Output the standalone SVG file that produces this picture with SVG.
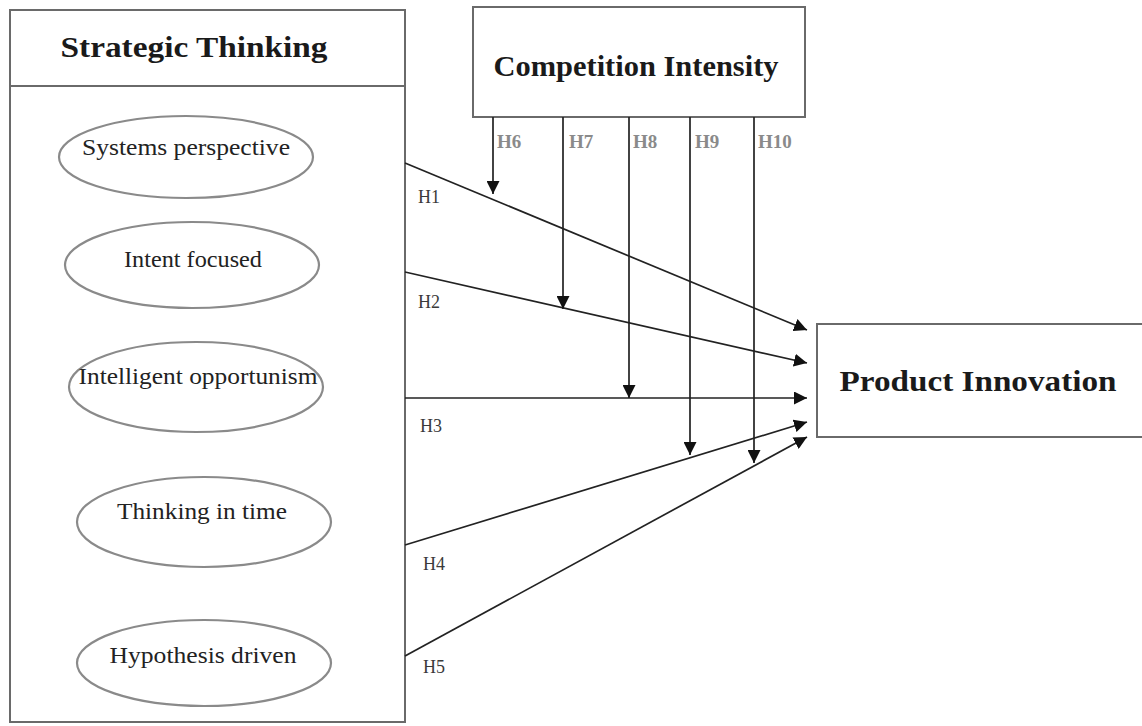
<svg xmlns="http://www.w3.org/2000/svg" width="1142" height="726" viewBox="0 0 1142 726">
<defs>
<style>
.box{fill:#fff;stroke:#6a6a6a;stroke-width:2}
.ell{fill:#fff;stroke:#8a8a8a;stroke-width:2.2}
.title{font-family:"Liberation Serif",serif;font-weight:bold;font-size:30px;fill:#1a1a1a;text-anchor:middle}
.etxt{font-family:"Liberation Serif",serif;font-size:24px;fill:#222;text-anchor:middle}
.lbl{font-family:"Liberation Serif",serif;font-size:18px;fill:#3a3a3a}
.mlbl{font-family:"Liberation Serif",serif;font-size:19px;fill:#8a8a8a;font-weight:bold}
.con{stroke:#222;stroke-width:1.7;fill:none;marker-end:url(#ah)}
</style>
<marker id="ah" viewBox="0 0 10 10" refX="10" refY="5" markerWidth="13" markerHeight="13" markerUnits="userSpaceOnUse" orient="auto">
<path d="M0,0 L10,5 L0,10 z" fill="#111"/>
</marker>
</defs>
<rect width="1142" height="726" fill="#fff"/>

<g id="strategic-thinking">
<rect class="box" x="10" y="10" width="395" height="712"/>
<line x1="10" y1="86" x2="405" y2="86" stroke="#6a6a6a" stroke-width="2"/>
<text class="title" x="194" y="57" textLength="267" lengthAdjust="spacingAndGlyphs">Strategic Thinking</text>
</g>

<g id="systems-perspective">
<ellipse class="ell" cx="186" cy="157" rx="127" ry="41"/>
<text class="etxt" x="186" y="155" textLength="208" lengthAdjust="spacingAndGlyphs">Systems perspective</text>
</g>
<g id="intent-focused">
<ellipse class="ell" cx="192" cy="265" rx="127" ry="43"/>
<text class="etxt" x="193" y="267" textLength="138" lengthAdjust="spacingAndGlyphs">Intent focused</text>
</g>
<g id="intelligent-opportunism">
<ellipse class="ell" cx="196" cy="387" rx="127" ry="45"/>
<text class="etxt" x="198" y="384" textLength="239" lengthAdjust="spacingAndGlyphs">Intelligent opportunism</text>
</g>
<g id="thinking-in-time">
<ellipse class="ell" cx="204" cy="522" rx="127" ry="45"/>
<text class="etxt" x="202" y="519" textLength="170" lengthAdjust="spacingAndGlyphs">Thinking in time</text>
</g>
<g id="hypothesis-driven">
<ellipse class="ell" cx="204" cy="663" rx="127" ry="43"/>
<text class="etxt" x="203" y="663" textLength="187" lengthAdjust="spacingAndGlyphs">Hypothesis driven</text>
</g>

<g id="competition-intensity">
<rect class="box" x="473" y="7" width="332" height="110"/>
<text class="title" x="636" y="76" textLength="285" lengthAdjust="spacingAndGlyphs">Competition Intensity</text>
</g>

<g id="product-innovation">
<rect class="box" x="817" y="324" width="330" height="113"/>
<text class="title" x="978" y="391" textLength="277" lengthAdjust="spacingAndGlyphs">Product Innovation</text>
</g>

<g id="connectors">
<line class="con" x1="405" y1="163" x2="807" y2="330"/>
<line class="con" x1="405" y1="272" x2="807" y2="363"/>
<line class="con" x1="405" y1="398" x2="807" y2="398"/>
<line class="con" x1="405" y1="545" x2="807" y2="422"/>
<line class="con" x1="405" y1="656" x2="807" y2="437"/>
<line class="con" x1="493" y1="117" x2="493" y2="194"/>
<line class="con" x1="563" y1="117" x2="563" y2="309"/>
<line class="con" x1="629" y1="117" x2="629" y2="398"/>
<line class="con" x1="690" y1="117" x2="690" y2="455"/>
<line class="con" x1="754" y1="117" x2="754" y2="463"/>
<text class="lbl" x="418" y="203">H1</text>
<text class="lbl" x="418" y="308">H2</text>
<text class="lbl" x="420" y="432">H3</text>
<text class="lbl" x="423" y="570">H4</text>
<text class="lbl" x="423" y="673">H5</text>
<text class="mlbl" x="497" y="148">H6</text>
<text class="mlbl" x="569" y="148">H7</text>
<text class="mlbl" x="633" y="148">H8</text>
<text class="mlbl" x="695" y="148">H9</text>
<text class="mlbl" x="758" y="148">H10</text>
</g>
</svg>
